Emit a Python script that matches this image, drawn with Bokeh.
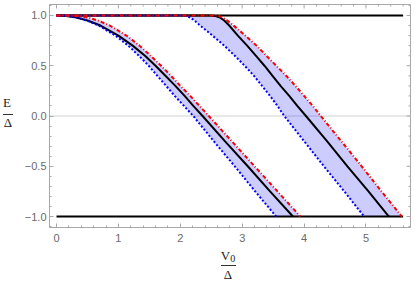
import numpy as np
from bokeh.plotting import figure
from bokeh.models import FixedTicker, Span, Range1d, Div
from bokeh.layouts import row, column
from bokeh.embed import file_html
from bokeh.resources import INLINE

# ---------------- data ----------------
x_ticks = [0, 1, 2, 3, 4, 5]
x_tick_labels = ["0", "1", "2", "3", "4", "5"]
y_ticks = [-1.0, -0.5, 0.0, 0.5, 1.0]
y_tick_labels = ["\u22121.0", "\u22120.5", "0.0", "0.5", "1.0"]

# E/Delta levels at which each curve's V0/Delta was read
levels = [1.0, 0.995, 0.98, 0.95, 0.9, 0.8, 0.7, 0.6, 0.5, 0.4, 0.3, 0.2, 0.1,
          0.0, -0.25, -0.5, -0.75, -1.0]

left_black = [0.0, 0.16, 0.32, 0.5, 0.71, 1.0, 1.23, 1.43, 1.6, 1.76, 1.92, 2.07,
              2.21, 2.36, 2.72, 3.09, 3.45, 3.82]
left_red = [0.2, 0.35, 0.5, 0.67, 0.86, 1.13, 1.34, 1.52, 1.69, 1.85, 2.0, 2.16,
            2.31, 2.46, 2.83, 3.2, 3.57, 3.94]
left_blue = [0.03, 0.18, 0.32, 0.49, 0.68, 0.95, 1.16, 1.33, 1.49, 1.63, 1.77, 1.91,
             2.06, 2.21, 2.54, 2.88, 3.21, 3.55]

right_black = [2.47, 2.57, 2.64, 2.71, 2.79, 2.93, 3.08, 3.22, 3.36, 3.49, 3.62, 3.76,
               3.89, 4.03, 4.37, 4.7, 5.04, 5.37]
right_red = [2.55, 2.62, 2.68, 2.76, 2.86, 3.05, 3.23, 3.39, 3.55, 3.71, 3.86, 4.0,
             4.14, 4.27, 4.6, 4.93, 5.25, 5.58]
right_blue = [2.05, 2.1, 2.16, 2.23, 2.32, 2.52, 2.71, 2.88, 3.04, 3.19, 3.32, 3.45,
              3.57, 3.68, 4.0, 4.32, 4.65, 4.97]

plateau_x = [0.0, 5.6]
upper_band = [1.0, 1.0]
lower_band = [-1.0, -1.0]

y_label_top = "E"
y_label_bottom = "\u0394"
x_label_top = "V"
x_label_sub = "0"
x_label_bottom = "\u0394"

# ---------------- figure ----------------
frame_color = "#a8a8a8"
label_color = "#6a6a6a"
text_color = "#222222"

X0, X1 = -0.113, 5.719
Y0, Y1 = -1.109, 1.109
FRAME_W, FRAME_H = 361, 223
YDIV_W = 18
B_LEFT, B_RIGHT, B_TOP, B_BOTTOM = 31, 4, 4, 21
P_W = B_LEFT + FRAME_W + B_RIGHT
P_H = B_TOP + FRAME_H + B_BOTTOM
XDIV_H = 34

p = figure(width=P_W, height=P_H,
           x_range=Range1d(X0, X1), y_range=Range1d(Y0, Y1),
           output_backend="svg", toolbar_location=None,
           min_border_left=B_LEFT, min_border_right=B_RIGHT,
           min_border_top=B_TOP, min_border_bottom=B_BOTTOM)
p.grid.visible = False
p.outline_line_color = frame_color
p.outline_line_width = 1
p.background_fill_color = "white"
p.border_fill_color = "white"

x_minor = [round(v, 2) for v in np.arange(-0.2, 5.81, 0.2)]
y_minor = [round(v, 2) for v in np.arange(-1.1, 1.11, 0.1)]


def style_axis(ax, ticker, labels, standoff):
    ax.ticker = ticker
    ax.axis_line_color = frame_color
    ax.axis_line_width = 1
    ax.major_tick_line_color = frame_color
    ax.minor_tick_line_color = frame_color
    ax.major_tick_in = 4
    ax.major_tick_out = 0
    ax.minor_tick_in = 2
    ax.minor_tick_out = 0
    ax.major_label_overrides = labels
    ax.major_label_text_color = label_color
    ax.major_label_text_font = "Liberation Sans"
    ax.major_label_text_font_size = "11px"
    ax.major_label_standoff = standoff


style_axis(p.xaxis[0], FixedTicker(ticks=x_ticks, minor_ticks=x_minor),
           dict(zip(x_ticks, x_tick_labels)), 6)
style_axis(p.yaxis[0], FixedTicker(ticks=y_ticks, minor_ticks=y_minor),
           dict(zip(y_ticks, y_tick_labels)), 3)

# inward ticks on the top and right frame edges
xpp = (X1 - X0) / FRAME_W
ypp = (Y1 - Y0) / FRAME_H
x_minor_in = [v for v in x_minor if X0 < v < X1 and v not in x_ticks]
y_minor_in = [v for v in y_minor if Y0 < v < Y1 and v not in y_ticks]
p.segment(x0=x_ticks, x1=x_ticks, y0=[Y1] * len(x_ticks),
          y1=[Y1 - 4 * ypp] * len(x_ticks), line_color=frame_color, line_width=1)
p.segment(x0=x_minor_in, x1=x_minor_in, y0=[Y1] * len(x_minor_in),
          y1=[Y1 - 2 * ypp] * len(x_minor_in), line_color=frame_color, line_width=1)
p.segment(x0=[X1] * len(y_ticks), x1=[X1 - 4 * xpp] * len(y_ticks), y0=y_ticks,
          y1=y_ticks, line_color=frame_color, line_width=1)
p.segment(x0=[X1] * len(y_minor_in), x1=[X1 - 2 * xpp] * len(y_minor_in),
          y0=y_minor_in, y1=y_minor_in, line_color=frame_color, line_width=1)

# horizontal zero axis line
p.add_layout(Span(location=0, dimension="width", line_color="#d2d2d2",
                  line_width=1, level="underlay"))

# shaded bands between the red and blue curves
fill = "#0000ff"
p.harea(x1=left_blue, x2=left_red, y=levels, fill_color=fill, fill_alpha=0.2)
p.harea(x1=right_blue, x2=right_red, y=levels, fill_color=fill, fill_alpha=0.2)

# band edges
p.line(plateau_x, upper_band, line_color="black", line_width=2)
p.line(plateau_x, lower_band, line_color="black", line_width=2)

for xs in (left_black, right_black):
    p.line([0.0] + xs, [1.0] + levels, line_color="black", line_width=2)
for xs in (left_blue, right_blue):
    p.line([0.0] + xs, [1.0] + levels, line_color="#0000ff", line_width=2,
           line_dash="2 2")
for xs in (left_red, right_red):
    p.line([0.0] + xs, [1.0] + levels, line_color="#ff0000", line_width=2,
           line_dash="4 2 1 2")

# ---------------- fraction axis labels (HTML) ----------------
font_css = ("font-family:'Liberation Serif','Times New Roman',serif;"
            "font-size:13px;line-height:13px;color:%s;" % text_color)


def fraction_html(w, h, top_html, bottom_html, top_box, bar_box, bottom_box):
    tl, tt, tw = top_box
    bl, bt, bw = bar_box
    ul, ut, uw = bottom_box
    return (
        '<div style="position:relative;display:block;width:%dpx;height:%dpx;%s">'
        '<div style="position:absolute;left:%dpx;top:%dpx;width:%dpx;text-align:center;white-space:nowrap">%s</div>'
        '<div style="position:absolute;left:%dpx;top:%dpx;width:%dpx;height:0;border-top:1px solid #333"></div>'
        '<div style="position:absolute;left:%dpx;top:%dpx;width:%dpx;text-align:center;white-space:nowrap">%s</div>'
        '</div>'
        % (w, h, font_css, tl, tt, tw, top_html, bl, bt, bw, ul, ut, uw, bottom_html)
    )


ydiv = Div(text=fraction_html(YDIV_W, P_H, y_label_top, y_label_bottom,
                              (1, 96, 12), (3, 114, 10), (2, 116, 12)),
           width=YDIV_W, height=P_H, margin=0)

v_html = ('%s<span style="font-size:10px;position:relative;top:2px">%s</span>'
          % (x_label_top, x_label_sub))
xdiv = Div(text=fraction_html(P_W, XDIV_H, v_html, x_label_bottom,
                              (195, 1, 30), (203, 17, 15), (200, 20, 20)),
           width=P_W, height=XDIV_H, margin=0)

layout = row(ydiv, column(p, xdiv, spacing=0), spacing=0)

open("out.html", "w").write(file_html(layout, INLINE))
